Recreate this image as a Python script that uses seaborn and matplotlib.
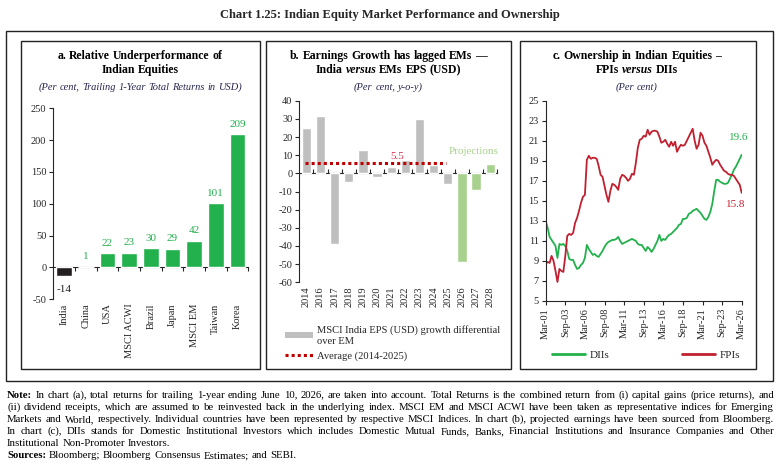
import numpy as np
import matplotlib
matplotlib.use("Agg")
import matplotlib.pyplot as plt
import seaborn as sns
from matplotlib.patches import Rectangle, Patch
from matplotlib.lines import Line2D

# ---------------- data ----------------
countries = ["India", "China", "USA", "MSCI ACWI", "Brazil", "Japan", "MSCI EM", "Taiwan", "Korea"]
returns_1y = [-14, 1, 22, 23, 30, 29, 42, 101, 209]

eps_years = ["2014", "2016", "2017", "2018", "2019", "2020", "2021", "2022", "2023",
             "2024", "2025", "2026", "2027", "2028"]
eps_diff = [24.8, 31.7, -38.9, -4.6, 12.7, -1.8, 3.5, 7.1, 29.9, 4.4, -5.9, -48.7, -9.0, 5.1]
eps_kind = ["Actual"] * 11 + ["Projection"] * 3
eps_avg = 5.5

own_ticklabels = ["Mar-01", "Sep-03", "Mar-06", "Sep-08", "Mar-11", "Sep-13",
                  "Mar-16", "Sep-18", "Mar-21", "Sep-23", "Mar-26"]
dii = [13.0, 12.3, 11.4, 11.1, 10.8, 10.5, 9.3, 10.7, 10.6, 10.7,
       10.5, 10.0, 9.2, 9.1, 9.1, 8.6, 8.2, 8.3, 8.6, 8.8,
       9.3, 10.6, 10.2, 9.9, 9.6, 9.7, 9.5, 9.4, 9.7, 10.0,
       10.4, 10.7, 10.9, 11.0, 11.1, 11.1, 11.2, 11.4, 11.0, 10.7,
       10.8, 10.9, 11.0, 11.1, 11.2, 11.1, 11.0, 10.7, 10.6, 10.6,
       10.3, 10.0, 10.4, 10.2, 9.9, 10.2, 10.6, 11.0, 11.6, 11.0,
       11.2, 11.1, 11.4, 11.6, 11.7, 11.9, 12.1, 12.3, 12.6, 12.7,
       13.2, 13.2, 13.3, 13.7, 13.8, 14.0, 14.1, 14.2, 14.0, 13.8,
       13.5, 13.2, 13.1, 13.4, 13.9, 14.7, 16.0, 17.1, 17.1, 16.9,
       16.8, 16.7, 16.7, 16.8, 17.2, 17.6, 18.1, 18.4, 18.8, 19.2,
       19.6]
fpi = [8.7, 8.9, 8.8, 9.5, 9.0, 8.0, 6.9, 8.2, 8.0, 7.9,
       9.5, 11.5, 11.7, 11.6, 11.8, 12.8, 13.3, 14.0, 14.8, 15.4,
       15.6, 19.1, 19.5, 19.2, 19.3, 19.3, 19.2, 18.5, 17.6, 17.4,
       16.5, 15.6, 14.9, 16.0, 16.7, 16.6, 16.4, 16.1, 17.2, 17.6,
       17.5, 17.3, 17.0, 17.2, 17.7, 17.6, 18.8, 20.3, 21.1, 21.2,
       21.5, 21.4, 22.1, 21.6, 21.9, 22.0, 22.0, 21.9, 21.4, 20.8,
       20.9, 21.1, 20.7, 20.4, 20.9, 20.5, 20.9, 19.9, 20.3, 20.6,
       20.5, 20.6, 21.0, 21.4, 21.8, 22.2, 21.0, 20.2, 20.6, 21.8,
       21.5, 20.8, 20.5, 19.9, 19.3, 18.6, 18.9, 19.1, 19.0, 18.6,
       18.3, 18.0, 17.9, 17.7, 17.6, 17.6, 17.5, 17.2, 16.9, 16.6,
       15.8]

notes = [
    "Note: In chart (a), total returns for trailing 1-year ending June 10, 2026, are taken into account. Total Returns is the combined return from (i) capital gains (price returns), and",
    "(ii) dividend receipts, which are assumed to be reinvested back in the underlying index. MSCI EM and MSCI ACWI have been taken as representative indices for Emerging",
    "Markets and World, respectively. Individual countries have been represented by respective MSCI Indices. In chart (b), projected earnings have been sourced from Bloomberg.",
    "In chart (c), DIIs stands for Domestic Institutional Investors which includes Domestic Mutual Funds, Banks, Financial Institutions and Insurance Companies and Other",
    "Institutional Non-Promoter Investors.",
    "Sources: Bloomberg; Bloomberg Consensus Estimates; and SEBI.",
]

# ---------------- style ----------------
SERIF = "Liberation Serif"
sns.set_style("ticks")
plt.rcParams["font.family"] = [SERIF, "DejaVu Serif"]
plt.rcParams["axes.linewidth"] = 0.8
plt.rcParams["axes.unicode_minus"] = False

GREEN = "#22B14C"
BLACK = "#231F20"
GRAY = "#BFBFBF"
LGREEN = "#A9D18E"
RED = "#C00000"
LINE_RED = "#C0202F"
SUB = "#262650"

W, H = 781, 475
fig = plt.figure(figsize=(W / 100, H / 100), dpi=100)
fig.patch.set_facecolor("white")
renderer = fig.canvas.get_renderer()


def rect(l, t, r, b):
    return [l / W, 1 - b / H, (r - l) / W, (b - t) / H]


def box(l, t, r, b, lw=1.0):
    fig.patches.append(Rectangle((l / W, 1 - b / H), (r - l) / W, (b - t) / H,
                                 transform=fig.transFigure, fill=False,
                                 edgecolor="#222222", linewidth=lw))


def space_width(size, weight="normal", style="normal"):
    a = fig.text(0, 0, "n n", fontsize=size, fontweight=weight, fontstyle=style, family=SERIF)
    b = fig.text(0, 0, "nn", fontsize=size, fontweight=weight, fontstyle=style, family=SERIF)
    w = a.get_window_extent(renderer).width - b.get_window_extent(renderer).width
    a.remove(); b.remove()
    return w


def make_words(words, y, size, color):
    arts, widths = [], []
    for w, weight, style in words:
        t = fig.text(0, 1 - y / H, w, fontsize=size, fontweight=weight, fontstyle=style,
                     family=SERIF, color=color, va="center", ha="left")
        arts.append(t)
        widths.append(t.get_window_extent(renderer).width)
    return arts, widths


def run(words, y, size, color="black", x0=None, x1=None, xc=None, justify=False):
    arts, widths = make_words(words, y, size, color)
    sp = space_width(size)
    if justify and len(arts) > 1:
        gap = (x1 - x0 - sum(widths)) / (len(arts) - 1)
    else:
        gap = sp
    total = sum(widths) + gap * (len(arts) - 1)
    if xc is not None:
        x0 = xc - total / 2
    x = x0
    for t, wd in zip(arts, widths):
        t.set_x(x / W)
        x += wd + gap


def natural_width(words, size):
    arts, widths = make_words(words, 0, size, "black")
    for a in arts:
        a.remove()
    return sum(widths) + space_width(size) * (len(widths) - 1)


def style_axes(ax):
    for s in ["top", "right"]:
        ax.spines[s].set_visible(False)
    ax.tick_params(axis="y", direction="out", length=3, width=0.8, labelsize=7.5, pad=2)
    for lab in ax.get_yticklabels() + ax.get_xticklabels():
        lab.set_family(SERIF)


# ---------------- frames & title ----------------
box(6, 31, 773, 381)
box(21, 41, 260, 369)
box(266, 41, 511, 369)
box(520, 41, 756, 369)
fig.text(390 / W, 1 - 15 / H, "Chart 1.25: Indian Equity Market Performance and Ownership",
         ha="center", va="center", fontsize=9, fontweight="bold", family=SERIF)

# ---------------- panel a ----------------
ax_a = fig.add_axes(rect(53.3, 108.3, 248.3, 299.3))
pal_a = [BLACK if v < 0 else GREEN for v in returns_1y]
sns.barplot(x=countries, y=returns_1y, hue=countries, palette=pal_a, width=0.72,
            saturation=1, legend=False, ax=ax_a)
ax_a.set_ylim(-50, 250)
ax_a.set_xlim(-0.5, len(countries) - 0.5)
ax_a.set_yticks(np.arange(-50, 251, 50))
ax_a.spines["bottom"].set_visible(False)
ax_a.tick_params(axis="x", length=0, labelsize=7.5, rotation=90, pad=3)
ax_a.set_xlabel(""); ax_a.set_ylabel("")
style_axes(ax_a)
sec_a = ax_a.secondary_xaxis(50 / 300)
sec_a.set_xticks(np.arange(0.5, len(countries), 1))
sec_a.set_xticklabels([])
sec_a.tick_params(length=3, width=0.8, direction="out")
sec_a.spines["bottom"].set_linewidth(0.8)
for cont in ax_a.containers:
    for bar in cont:
        h = bar.get_height()
        ax_a.annotate(f"{h:.0f}", (bar.get_x() + bar.get_width() / 2, h),
                      xytext=(0, 4 if h >= 0 else -6), textcoords="offset points",
                      ha="center", va="bottom" if h >= 0 else "top", fontsize=8,
                      color=GREEN if h >= 0 else BLACK, family=SERIF)

run([("a.", "bold", "normal"), ("Relative", "bold", "normal"), ("Underperformance", "bold", "normal"),
     ("of", "bold", "normal")], 56, 8.5, xc=140)
run([("Indian", "bold", "normal"), ("Equities", "bold", "normal")], 70, 8.5, xc=140)
run([(w, "normal", "italic") for w in "(Per cent, Trailing 1-Year Total Returns in USD)".split()],
    87, 7.5, color=SUB, xc=140)

# ---------------- panel b ----------------
ax_b = fig.add_axes(rect(299.3, 100.7, 497.3, 282.3))
sns.barplot(x=eps_years, y=eps_diff, hue=eps_kind, palette={"Actual": GRAY, "Projection": LGREEN},
            dodge=False, width=0.66, saturation=1, legend=False, ax=ax_b)
ax_b.hlines(eps_avg, -0.1, 9.9, colors=RED, linestyles=(0, (1, 1)), linewidth=2.2, zorder=4)
ax_b.set_ylim(-60, 40)
ax_b.set_xlim(-0.5, len(eps_years) - 0.5)
ax_b.set_yticks(np.arange(-60, 41, 10))
ax_b.spines["bottom"].set_visible(False)
ax_b.tick_params(axis="x", length=0, labelsize=7.5, rotation=90, pad=3)
ax_b.set_xlabel(""); ax_b.set_ylabel("")
style_axes(ax_b)
sec_b = ax_b.secondary_xaxis(60 / 100)
sec_b.set_xticks(np.arange(0.5, len(eps_years), 1))
sec_b.set_xticklabels([])
sec_b.tick_params(length=3, width=0.8, direction="out")
sec_b.spines["bottom"].set_linewidth(0.8)
ax_b.text(6.4, 9.5, f"{eps_avg}", color="#D0314B", fontsize=8, ha="center", va="center", family=SERIF)
ax_b.text(11.8, 11.9, "Projections", color=LGREEN, fontsize=8, ha="center", va="center", family=SERIF)

run([(w, "bold", "normal") for w in "b. Earnings Growth has lagged EMs —".split()], 56, 8.5, xc=388.5)
run([("India", "bold", "normal"), ("versus", "bold", "italic"), ("EMs", "bold", "normal"),
     ("EPS", "bold", "normal"), ("(USD)", "bold", "normal")], 70, 8.5, xc=388.5)
run([("(Per", "normal", "italic"), ("cent,", "normal", "italic"), ("y-o-y)", "normal", "italic")],
    87, 7.5, color=SUB, xc=388.5)

fig.legend(handles=[Patch(facecolor=GRAY, edgecolor="none",
                          label="MSCI India EPS (USD) growth differential\nover EM"),
                    Line2D([], [], color=RED, linestyle=(0, (1, 1)), linewidth=2.2,
                           label="Average (2014-2025)")],
           loc="upper left", bbox_to_anchor=(280 / W, 1 - 320 / H), frameon=False,
           handlelength=2.6, handleheight=0.5, handletextpad=0.4, labelspacing=0.55,
           borderpad=0, prop={"family": SERIF, "size": 7.6})

# ---------------- panel c ----------------
ax_c = fig.add_axes(rect(545.7, 100.7, 741.7, 301))
q = np.arange(len(dii))
sns.lineplot(x=q, y=dii, color=GREEN, linewidth=1.3, ax=ax_c)
sns.lineplot(x=q, y=fpi, color=LINE_RED, linewidth=1.3, ax=ax_c)
ax_c.set_ylim(5, 25)
ax_c.set_xlim(0, len(dii) - 1)
ax_c.set_yticks(np.arange(5, 26, 2))
ax_c.set_xticks(np.linspace(0, len(dii) - 1, len(own_ticklabels)))
ax_c.set_xticklabels(own_ticklabels)
ax_c.tick_params(axis="x", direction="out", length=3, width=0.8, labelsize=7.5, rotation=90, pad=2)
ax_c.set_xlabel(""); ax_c.set_ylabel("")
style_axes(ax_c)
ax_c.annotate(f"{dii[-1]}", (q[-1], dii[-1]), xytext=(-2, 9), textcoords="offset points",
              ha="center", va="bottom", color=GREEN, fontsize=8, family=SERIF)
ax_c.annotate(f"{fpi[-1]}", (q[-1], fpi[-1]), xytext=(-4, -5), textcoords="offset points",
              ha="center", va="top", color=LINE_RED, fontsize=8, family=SERIF)

run([(w, "bold", "normal") for w in "c. Ownership in Indian Equities –".split()], 56, 8.5, xc=637)
run([("FPIs", "bold", "normal"), ("versus", "bold", "italic"), ("DIIs", "bold", "normal")],
    70, 8.5, xc=637)
run([("(Per", "normal", "italic"), ("cent)", "normal", "italic")], 87, 7.5, color=SUB, xc=637)

fig.legend(handles=[Line2D([], [], color=GREEN, linewidth=2, label="DIIs")],
           loc="center left", bbox_to_anchor=(546 / W, 1 - 355 / H), frameon=False,
           handlelength=3.0, handletextpad=0.4, borderpad=0, prop={"family": SERIF, "size": 8})
fig.legend(handles=[Line2D([], [], color=LINE_RED, linewidth=2, label="FPIs")],
           loc="center left", bbox_to_anchor=(676 / W, 1 - 355 / H), frameon=False,
           handlelength=3.0, handletextpad=0.4, borderpad=0, prop={"family": SERIF, "size": 8})

# ---------------- notes ----------------
X0, X1 = 7, 774
note_items = []
for line in notes:
    words = line.split(" ")
    items = []
    for j, w in enumerate(words):
        bold = j == 0 and w in ("Note:", "Sources:")
        items.append((w, "bold" if bold else "normal", "normal"))
    note_items.append(items)
base = 6.6
widest = max(natural_width(it, base) for it in note_items[:4])
note_size = base * (X1 - X0) / widest * 0.985
y0, dy = 395, 12.2
for i, items in enumerate(note_items):
    run(items, y0 + i * dy, note_size, x0=X0, x1=X1, justify=(i < 4))

fig.savefig("out.png", dpi=100)
